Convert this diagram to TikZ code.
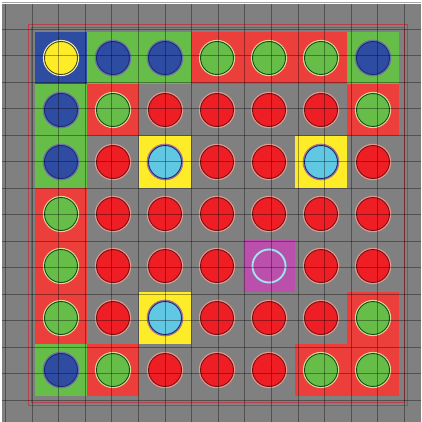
\documentclass[tikz,border=0pt]{standalone}
\definecolor{boardgray}{RGB}{128,128,128}
\definecolor{cellred}{RGB}{236,62,58}
\definecolor{cellgreen}{RGB}{102,190,72}
\definecolor{cellblue}{RGB}{46,76,162}
\definecolor{cellyellow}{RGB}{255,236,40}
\definecolor{cellpurple}{RGB}{186,80,172}
\definecolor{stonered}{RGB}{238,30,36}
\definecolor{rimred}{RGB}{110,20,20}
\definecolor{halored}{RGB}{232,150,145}
\definecolor{rimgreen}{RGB}{20,75,25}
\definecolor{halogreen}{RGB}{218,220,150}
\definecolor{rimblue}{RGB}{30,42,115}
\definecolor{haloblue}{RGB}{105,118,165}
\definecolor{rimyellow}{RGB}{70,70,30}
\definecolor{haloyellow}{RGB}{242,240,175}
\definecolor{stonecyan}{RGB}{96,200,226}
\definecolor{halocyan}{RGB}{165,115,150}
\definecolor{halopurple}{RGB}{175,222,238}
\definecolor{framered}{RGB}{185,65,75}
\begin{document}
\begin{tikzpicture}[x=1pt,y=-1pt,
    cell/.style={rectangle,inner sep=0pt,minimum size=52pt,draw=none},
    cellr/.style={cell,fill=cellred},
    cellg/.style={cell,fill=cellgreen},
    cellb/.style={cell,fill=cellblue},
    celly/.style={cell,fill=cellyellow},
    cellp/.style={cell,fill=cellpurple},
    celln/.style={cell},
    stone/.style={circle,inner sep=0pt,minimum size=33pt,line width=0.9pt},
    stonen/.style={stone,fill=stonered,draw=rimred,preaction={draw=halored,line width=3.4pt}},
    stoner/.style={stone,fill=cellgreen,draw=rimgreen,preaction={draw=halogreen,line width=3.2pt}},
    stoneg/.style={stone,fill=cellblue,draw=rimblue,preaction={draw=haloblue,line width=3.6pt}},
    stoneb/.style={stone,fill=cellyellow,draw=rimyellow,preaction={draw=haloyellow,line width=3.2pt}},
    stoney/.style={stone,fill=stonecyan,draw=rimblue,preaction={draw=halocyan,line width=3.6pt}},
    stonep/.style={stone,fill=cellpurple,draw=halopurple,line width=1.8pt,preaction={draw=rimblue!60,line width=3pt}},
    gridline/.style={black,opacity=0.36,line width=0.75pt},
    frame/.style={draw=framered,line width=0.8pt}]
  \useasboundingbox (0,0) rectangle (421,422);
  % Background
  \fill[boardgray] (2,4) rectangle (421,422);
  % Board cells and stones
  \foreach \row [count=\i] in {{b,g,g,r,r,r,g},{g,r,n,n,n,n,r},{g,n,y,n,n,y,n},
      {r,n,n,n,n,n,n},{r,n,n,n,p,n,n},{r,n,y,n,n,n,r},{g,r,n,n,n,r,r}} {
    \foreach \k [count=\j] in \row {
      \node[cell\k] (c\i\j) at ({9+52*\j},{6+52*\i}) {};
      \node[stone\k] (s\i\j) at (c\i\j) {};
    }
  }
  % Double frame
  \draw[frame] (28,24) rectangle (407,405);
  \draw[frame] (31,27) rectangle (404,402);
  % Grid on top
  \foreach \k in {-1,...,14} {
    \draw[gridline] ({32+26.6*\k},4) -- ({32+26.6*\k},422);
    \draw[gridline] (2,{29+26.5*\k}) -- (421,{29+26.5*\k});
  }
\end{tikzpicture}
\end{document}
